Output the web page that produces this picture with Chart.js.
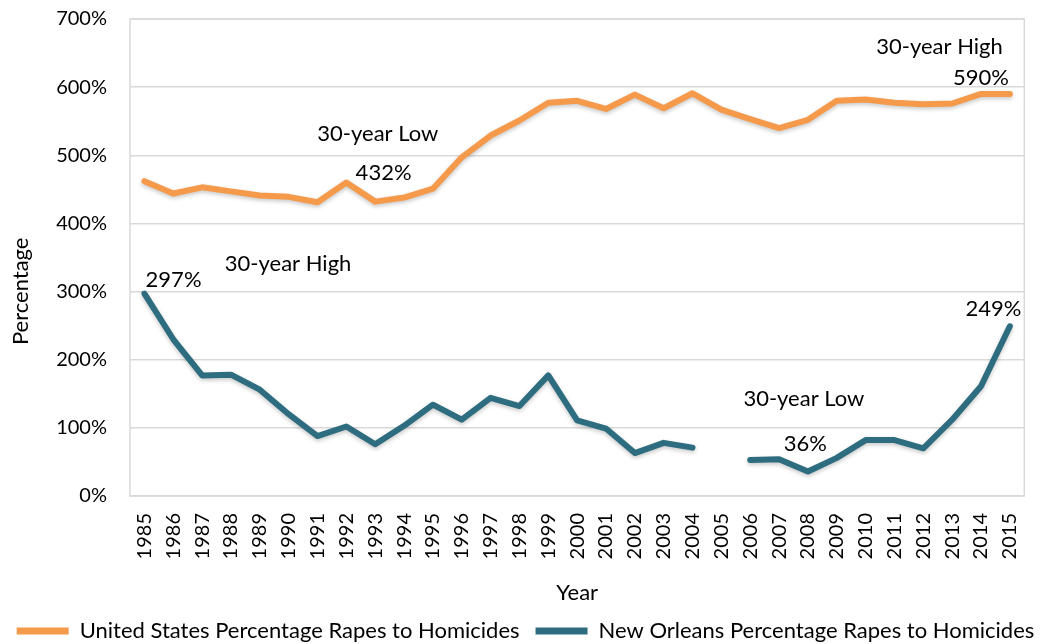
<!DOCTYPE html>
<html lang="en">
<head>
    <meta charset="UTF-8">
    <title>Percentage Rapes to Homicides</title>
    <script src="https://cdn.jsdelivr.net/npm/chart.js"></script>
    <style>
        * { margin: 0; padding: 0; box-sizing: border-box; }
        body { background: #fff; width: 1051px; height: 644px; overflow: hidden; }
        .wrap { position: relative; width: 1051px; height: 644px; }
    </style>
</head>
<body>
    <div class="wrap">
        <canvas id="chart" width="1051" height="644"></canvas>
    </div>

    <script>
        // data
        const years = ['1985','1986','1987','1988','1989','1990','1991','1992','1993','1994',
                       '1995','1996','1997','1998','1999','2000','2001','2002','2003','2004',
                       '2005','2006','2007','2008','2009','2010','2011','2012','2013','2014','2015'];
        const usValues = [462, 444, 453, 447, 441, 439, 431, 460, 432, 438,
                          451, 497, 529, 551, 577, 580, 568, 589, 569, 591,
                          567, 553, 540, 552, 580, 582, 577, 575, 576, 590, 590];
        const noValues = [297, 230, 177, 178, 156, 120, 88, 102, 76, 103,
                          134, 112, 144, 132, 177, 111, 99, 63, 78, 71,
                          null, 53, 54, 36, 56, 82, 82, 70, 112, 161, 249];
        const yTicks = [0, 100, 200, 300, 400, 500, 600, 700];

        const notes = [
            { text: '30-year Low', x: 8.09, y: 532 },
            { text: '432%', x: 8.29, y: 474 },
            { text: '30-year High', x: 4.98, y: 341 },
            { text: '297%', x: 1.01, y: 317 },
            { text: '30-year High', x: 27.56, y: 659 },
            { text: '590%', x: 29.0, y: 613 },
            { text: '249%', x: 29.43, y: 274 },
            { text: '30-year Low', x: 22.86, y: 142 },
            { text: '36%', x: 22.91, y: 77 }
        ];

        const FONT = 'Lato, "Open Sans", sans-serif';
        const orange = '#F59A4B';
        const teal = '#2E6D80';
        const gridGray = '#d9d9d9';

        // frame around the plot area
        const framePlugin = {
            id: 'frame',
            beforeDatasetsDraw(chart) {
                const a = chart.chartArea, ctx = chart.ctx;
                ctx.save();
                ctx.strokeStyle = gridGray;
                ctx.lineWidth = 1.5;
                ctx.strokeRect(a.left, a.top, a.right - a.left, a.bottom - a.top);
                ctx.restore();
            }
        };

        // soft shadow under the lines
        const shadowPlugin = {
            id: 'lineShadow',
            beforeDatasetDraw(chart) {
                const ctx = chart.ctx;
                ctx.save();
                ctx.shadowColor = 'rgba(0,0,0,0.22)';
                ctx.shadowBlur = 4;
                ctx.shadowOffsetY = 2;
            },
            afterDatasetDraw(chart) {
                chart.ctx.restore();
            }
        };

        // text callouts
        const notePlugin = {
            id: 'notes',
            afterDatasetsDraw(chart) {
                const ctx = chart.ctx;
                const xs = chart.scales.x, ys = chart.scales.y;
                ctx.save();
                ctx.font = '22px ' + FONT;
                ctx.fillStyle = '#000';
                ctx.textAlign = 'center';
                ctx.textBaseline = 'middle';
                notes.forEach(n => {
                    ctx.fillText(n.text, xs.getPixelForValue(n.x), ys.getPixelForValue(n.y));
                });
                ctx.restore();
            }
        };

        const ctx = document.getElementById('chart').getContext('2d');
        new Chart(ctx, {
            type: 'line',
            data: {
                labels: years,
                datasets: [{
                    label: 'United States Percentage Rapes to Homicides',
                    data: usValues,
                    borderColor: orange,
                    backgroundColor: orange,
                    borderWidth: 6,
                    pointRadius: 0,
                    borderCapStyle: 'round',
                    borderJoinStyle: 'round',
                    tension: 0
                }, {
                    label: 'New Orleans Percentage Rapes to Homicides',
                    data: noValues,
                    borderColor: teal,
                    backgroundColor: teal,
                    borderWidth: 6,
                    pointRadius: 0,
                    borderCapStyle: 'round',
                    borderJoinStyle: 'round',
                    spanGaps: false,
                    tension: 0
                }]
            },
            options: {
                responsive: false,
                animation: false,
                layout: { padding: { top: 19, right: 0, left: 0, bottom: 0 } },
                plugins: {
                    tooltip: { enabled: false },
                    legend: {
                        position: 'bottom',
                        maxHeight: 40,
                        labels: {
                            font: { family: FONT, size: 22 },
                            color: '#000',
                            boxWidth: 52,
                            boxHeight: 7,
                            padding: 16,
                            useBorderRadius: true,
                            borderRadius: 3.5,
                            generateLabels(chart) {
                                return chart.data.datasets.map((d, i) => ({
                                    text: d.label,
                                    fillStyle: d.borderColor,
                                    strokeStyle: d.borderColor,
                                    lineWidth: 0,
                                    datasetIndex: i
                                }));
                            }
                        }
                    }
                },
                scales: {
                    x: {
                        offset: true,
                        grid: { display: false, drawTicks: false },
                        border: { display: false },
                        ticks: {
                            font: { family: FONT, size: 20 },
                            color: '#000',
                            minRotation: 90,
                            maxRotation: 90,
                            autoSkip: false,
                            padding: 17
                        },
                        title: {
                            display: true,
                            text: 'Year',
                            font: { family: FONT, size: 22, lineHeight: 1 },
                            color: '#000',
                            padding: { top: 20, bottom: 0 }
                        },
                        afterFit(axis) {
                            axis.height = 644 - 496 - 40;
                        }
                    },
                    y: {
                        min: 0,
                        max: 700,
                        afterBuildTicks(axis) {
                            axis.ticks = yTicks.map(v => ({ value: v }));
                        },
                        grid: { color: gridGray, lineWidth: 1.5, drawTicks: false },
                        border: { display: false },
                        ticks: {
                            font: { family: FONT, size: 20 },
                            color: '#000',
                            padding: 23,
                            callback: v => v + '%'
                        },
                        title: {
                            display: true,
                            // trailing spaces push the visible word down, as in the original
                            text: 'Percentage\u00a0\u00a0\u00a0\u00a0\u00a0\u00a0\u00a0\u00a0\u00a0\u00a0\u00a0\u00a0',
                            font: { family: FONT, size: 22, lineHeight: 1 },
                            color: '#000',
                            padding: { top: 10, bottom: 0 }
                        },
                        afterFit(axis) {
                            axis.width = 130;
                            axis.paddingTop = 0;
                            axis.paddingBottom = 0;
                        }
                    },
                    // empty strip on the right, keeps the frame off the edge
                    yRight: {
                        position: 'right',
                        grid: { display: false, drawTicks: false },
                        border: { display: false },
                        ticks: { display: false },
                        afterFit(axis) {
                            axis.width = 8;
                            axis.paddingTop = 0;
                            axis.paddingBottom = 0;
                        }
                    }
                }
            },
            plugins: [framePlugin, shadowPlugin, notePlugin]
        });
    </script>
</body>
</html>
